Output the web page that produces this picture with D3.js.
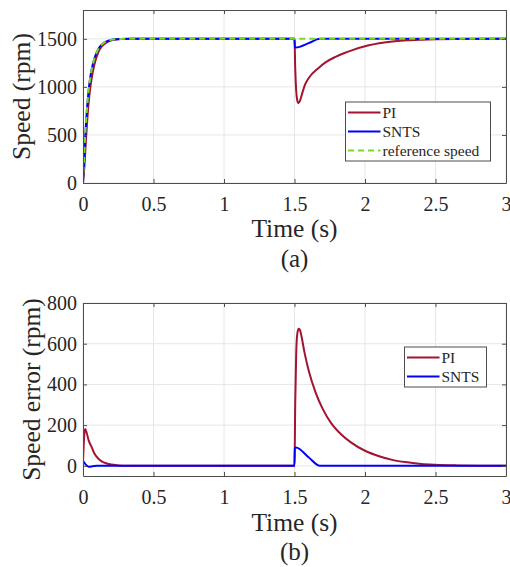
<!DOCTYPE html>
<html>
<head>
<meta charset="utf-8">
<script src="https://cdn.jsdelivr.net/npm/d3@7"></script>
<style>
  body { margin: 0; background: #fff; }
  svg text { font-family: 'Liberation Serif', 'Times New Roman', serif !important; fill: #262626; }
</style>
</head>
<body>
<svg id="fig" width="510" height="567"></svg>
<script>
//------------------------------ DATA ------------------------------------------
// speed (rpm), [time s, value]
var speedRef = [[0,0],[0.01,330],[0.02,600],[0.03,800],[0.04,960],[0.05,1080],[0.06,1170],
  [0.08,1290],[0.1,1370],[0.12,1420],[0.15,1460],[0.18,1482],[0.22,1494],[0.27,1499],[0.35,1500],[3,1500]];
var speedSNTS = [[0,0],[0.01,310],[0.02,590],[0.03,800],[0.04,965],[0.05,1084],[0.06,1172],
  [0.08,1290],[0.1,1370],[0.12,1420],[0.15,1460],[0.18,1482],[0.22,1494],[0.27,1499],[0.35,1500],
  [1.5,1500],[1.503,1412],[1.51,1410],[1.6,1455],[1.68,1500],[3,1500]];
var speedPI = [[0,0],[0.01,170],[0.016,320],[0.02,425],[0.03,650],[0.04,835],[0.05,972],[0.06,1076],
  [0.08,1228],[0.1,1328],[0.12,1393],[0.15,1444],[0.18,1472],[0.22,1490],[0.27,1498],[0.35,1500],
  [1.5,1500],[1.505,1200],[1.512,960],[1.52,855],[1.527,830],[1.54,860],[1.555,935],[1.574,1020],
  [1.6,1090],[1.669,1195],[1.72,1255],[1.787,1310],[1.85,1350],[1.906,1380],[2.02,1430],[2.1,1454],
  [2.21,1475],[2.3,1485],[2.4,1491],[2.5,1495],[2.65,1498],[3,1500]];

// speed error (rpm)
var errPI = [[0,20],[0.005,100],[0.01,160],[0.016,181],[0.025,165],[0.04,125],[0.06,94],[0.08,62],
  [0.106,37],[0.13,23],[0.154,15],[0.2,6],[0.25,2],[0.3,0],[1.5,0],[1.505,300],[1.512,550],
  [1.52,650],[1.53,674],[1.54,665],[1.55,635],[1.57,560],[1.6,470],[1.65,360],[1.7,280],
  [1.76,210],[1.83,155],[1.9,115],[2.0,74],[2.1,47],[2.2,28],[2.3,17],[2.4,9],[2.5,5],
  [2.65,2],[2.8,0.5],[3,0]];
var errSNTS = [[0,25],[0.04,-4],[0.07,-2],[0.1,0],[1.5,0],[1.502,88],[1.51,90],[1.6,42],[1.68,0],[3,0]];

var xTicks = [0, 0.5, 1, 1.5, 2, 2.5, 3];
var speedTicks = [0, 500, 1000, 1500];
var errTicks = [0, 200, 400, 600, 800];

//------------------------------ SET-UP ----------------------------------------
var svg = d3.select("#fig");
var left = 83, right = 506;
var serif = "'Liberation Serif', 'Times New Roman', serif";
var colPI = "#a2142f", colSNTS = "#0000ff", colRef = "#74dc22";

function panel(cfg) {
    var x = d3.scaleLinear().domain([0, 3]).range([left, right]);
    var y = d3.scaleLinear().domain(cfg.yDomain).range([cfg.bottom, cfg.top]);
    var g = svg.append("g");

    // grid
    g.selectAll(".gx").data(xTicks).enter().append("line")
        .attr("x1", d => x(d)).attr("x2", d => x(d))
        .attr("y1", cfg.top).attr("y2", cfg.bottom)
        .attr("stroke", "#e6e6e6");
    g.selectAll(".gy").data(cfg.yTicks).enter().append("line")
        .attr("x1", left).attr("x2", right)
        .attr("y1", d => y(d)).attr("y2", d => y(d))
        .attr("stroke", "#e6e6e6");

    // clip
    var clipId = "clip" + cfg.name;
    svg.append("clipPath").attr("id", clipId).append("rect")
        .attr("x", left).attr("y", cfg.top).attr("width", right - left).attr("height", cfg.bottom - cfg.top);

    var line = d3.line().x(d => x(d[0])).y(d => y(d[1])).curve(d3.curveMonotoneX);
    cfg.series.forEach(function(s) {
        g.append("path").datum(s.data)
            .attr("clip-path", "url(#" + clipId + ")")
            .attr("fill", "none")
            .attr("stroke", s.color)
            .attr("stroke-width", 2)
            .attr("stroke-dasharray", s.dash || null)
            .attr("d", line);
    });

    // axes (MATLAB style, ticks inward, box on)
    var fmt = d3.format("");
    g.append("g").attr("transform", "translate(0," + cfg.bottom + ")")
        .call(d3.axisBottom(x).tickValues(xTicks).tickSizeInner(-4).tickSizeOuter(0).tickPadding(14).tickFormat(fmt));
    g.append("g").attr("transform", "translate(" + left + ",0)")
        .call(d3.axisLeft(y).tickValues(cfg.yTicks).tickSizeInner(-4).tickSizeOuter(0).tickPadding(6).tickFormat(fmt));
    g.append("g").attr("transform", "translate(0," + cfg.top + ")")
        .call(d3.axisTop(x).tickValues(xTicks).tickSizeInner(-4).tickSizeOuter(0).tickFormat(""));
    g.append("g").attr("transform", "translate(" + right + ",0)")
        .call(d3.axisRight(y).tickValues(cfg.yTicks).tickSizeInner(-4).tickSizeOuter(0).tickFormat(""));
    g.selectAll(".domain, .tick line").attr("stroke", "#4d4d4d");
    g.selectAll("g").attr("font-family", serif);
    g.selectAll(".tick text").attr("font-family", serif).attr("font-size", 20).attr("fill", "#262626");

    // labels
    g.append("text").attr("x", (left + right) / 2).attr("y", cfg.xLabelY)
        .attr("text-anchor", "middle").attr("font-family", serif).attr("font-size", 25.5).text("Time (s)");
    g.append("text").attr("x", (left + right) / 2).attr("y", cfg.capY)
        .attr("text-anchor", "middle").attr("font-family", serif).attr("font-size", 25).text(cfg.caption);
    g.append("text")
        .attr("transform", "translate(" + cfg.yLabelX + "," + ((cfg.top + cfg.bottom) / 2) + ") rotate(-90)")
        .attr("text-anchor", "middle").attr("font-family", serif).attr("font-size", 25.5).text(cfg.yLabel);

    // legend
    var L = cfg.legend;
    g.append("rect").attr("x", L.x).attr("y", L.y).attr("width", L.w).attr("height", L.h)
        .attr("fill", "#fff").attr("stroke", "#4d4d4d").attr("stroke-width", 1);
    cfg.series.forEach(function(s, i) {
        var yy = L.y + 10.5 + i * 19;
        g.append("line").attr("x1", L.x + 2.5).attr("x2", L.x + 35).attr("y1", yy).attr("y2", yy)
            .attr("stroke", s.color).attr("stroke-width", 2).attr("stroke-dasharray", s.dash || null);
        g.append("text").attr("x", L.x + 37).attr("y", yy + 5.5)
            .attr("font-family", serif).attr("font-size", 15.5).text(s.name);
    });
}

panel({
    name: "a", top: 10, bottom: 183, yDomain: [0, 1800], yTicks: speedTicks,
    xLabelY: 237, capY: 267, caption: "(a)", yLabelX: 29.5, yLabel: "Speed (rpm)",
    legend: {x: 345.5, y: 102, w: 145, h: 59},
    series: [
        {name: "PI", data: speedPI, color: colPI},
        {name: "SNTS", data: speedSNTS, color: colSNTS},
        {name: "reference speed", data: speedRef, color: colRef, dash: "6,4"}
    ]
});

panel({
    name: "b", top: 303, bottom: 476, yDomain: [-50, 800], yTicks: errTicks,
    xLabelY: 530.5, capY: 560, caption: "(b)", yLabelX: 40, yLabel: "Speed error (rpm)",
    legend: {x: 404.5, y: 347, w: 82, h: 40},
    series: [
        {name: "PI", data: errPI, color: colPI},
        {name: "SNTS", data: errSNTS, color: colSNTS}
    ]
});
</script>
</body>
</html>
